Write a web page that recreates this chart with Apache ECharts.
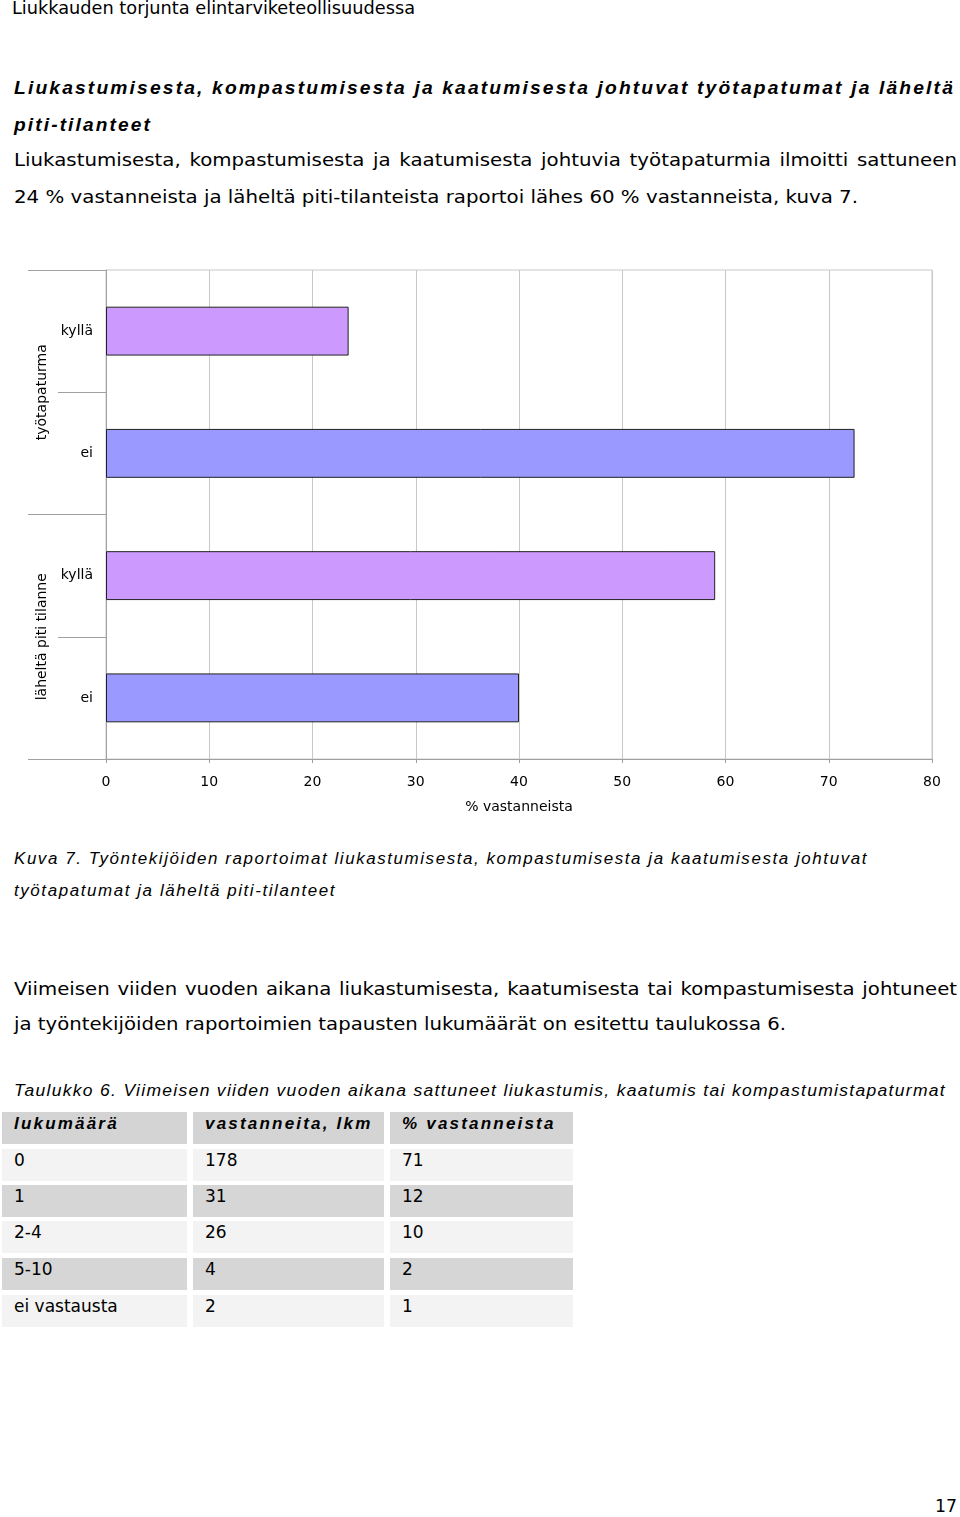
<!DOCTYPE html>
<html>
<head>
<meta charset="utf-8">
<script src="https://cdn.jsdelivr.net/npm/echarts@6/dist/echarts.min.js"></script>
<style>
  html, body { margin: 0; padding: 0; background: #fff; }
  body { width: 960px; height: 1517px; position: relative; overflow: hidden; color: #000; }
  .ln { position: absolute; white-space: pre; line-height: 24px; height: 24px; transform-origin: 0 50%; display: inline-block; }
  .cell { position: absolute; box-sizing: border-box; white-space: nowrap; font-family: "DejaVu Sans", Verdana, sans-serif; font-size: 17px; line-height: 23px; padding-left: 12px; }
  #chart { position: absolute; left: 0; top: 250px; width: 960px; height: 580px; }
</style>
</head>
<body>
<div id="chart"></div>
<script>
// ---------- data ----------
var groups = ['työtapaturma', 'läheltä piti tilanne'];
var answers = ['kyllä', 'ei'];
var percentValues = [23.5, 72.5, 59, 40]; // työtapaturma kyllä/ei, läheltä piti kyllä/ei
var xTicks = [0, 10, 20, 30, 40, 50, 60, 70, 80];
var xAxisName = '% vastanneista';

var tableHeader = ['lukumäärä', 'vastanneita, lkm', '% vastanneista'];
var tableCounts = ['0', '1', '2-4', '5-10', 'ei vastausta'];
var tableRespondents = [178, 31, 26, 4, 2];
var tablePercents = [71, 12, 10, 2, 1];

// ---------- text lines ----------
var arial = '"Liberation Sans", Arial, sans-serif';
var verdana = '"DejaVu Sans", Verdana, sans-serif';
var lines = [
  {t: 'Liukkauden torjunta elintarviketeollisuudessa', x: 12, y: 8, w: 403, f: '"Liberation Sans Narrow", "DejaVu Sans Condensed", sans-serif', s: 17, st: ''},
  {t: 'Liukastumisesta, kompastumisesta ja kaatumisesta johtuvat työtapatumat ja läheltä', x: 14, y: 88, w: 941, f: arial, s: 18, st: 'bold italic', ls: 2},
  {t: 'piti-tilanteet', x: 14, y: 125, w: 138, f: arial, s: 18, st: 'bold italic', ls: 2},
  {t: 'Liukastumisesta, kompastumisesta ja kaatumisesta johtuvia työtapaturmia ilmoitti sattuneen', x: 14, y: 160, w: 943, f: verdana, s: 18, st: '', just: 'body'},
  {t: '24 % vastanneista ja läheltä piti-tilanteista raportoi lähes 60 % vastanneista, kuva 7.', x: 14, y: 197, w: 844, f: verdana, s: 18, st: '', grp: 'body'},
  {t: 'Kuva 7. Työntekijöiden raportoimat liukastumisesta, kompastumisesta ja kaatumisesta johtuvat', x: 14, y: 859, w: 854, f: arial, s: 16, st: 'italic', ls: 1.5},
  {t: 'työtapatumat ja läheltä piti-tilanteet', x: 14, y: 891, w: 322, f: arial, s: 16, st: 'italic', ls: 1.5},
  {t: 'Viimeisen viiden vuoden aikana liukastumisesta, kaatumisesta tai kompastumisesta johtuneet', x: 14, y: 989, w: 943, f: verdana, s: 18, st: '', just: 'para'},
  {t: 'ja työntekijöiden raportoimien tapausten lukumäärät on esitettu taulukossa 6.', x: 14, y: 1024, w: 772, f: verdana, s: 18, st: '', grp: 'para'},
  {t: 'Taulukko 6. Viimeisen viiden vuoden aikana sattuneet liukastumis, kaatumis tai kompastumistapaturmat', x: 14, y: 1091, w: 932, f: arial, s: 16, st: 'italic', ls: 1.2},
  {t: '17', x: 935, y: 1506, w: 22, f: verdana, s: 18, st: ''}
];
var groupScale = {};
var pending = [];
lines.forEach(function (L) {
  var d = document.createElement('div');
  d.className = 'ln';
  d.textContent = L.t;
  d.style.left = L.x + 'px';
  d.style.top = (L.y - 12) + 'px';
  d.style.fontFamily = L.f;
  d.style.fontSize = L.s + 'px';
  if (L.st.indexOf('bold') >= 0) d.style.fontWeight = 'bold';
  if (L.st.indexOf('italic') >= 0) d.style.fontStyle = 'italic';
  if (L.ls) d.style.letterSpacing = L.ls + 'px';
  document.body.appendChild(d);
  var nat = d.getBoundingClientRect().width;
  if (L.just) { pending.push({d: d, L: L, nat: nat}); return; }
  var sc = nat > 0 ? L.w / nat : 1;
  if (L.grp) groupScale[L.grp] = sc;
  d.style.transform = 'scaleX(' + sc + ')';
});
pending.forEach(function (p) {
  var sc = groupScale[p.L.just] || 1;
  var spaces = (p.L.t.match(/ /g) || []).length;
  var extra = (p.L.w / sc - p.nat) / spaces;
  p.d.style.wordSpacing = extra + 'px';
  p.d.style.transform = 'scaleX(' + sc + ')';
});

// ---------- table ----------
var colX = [2, 193, 390];
var colW = [185, 191, 183];
var rowTop = [1112, 1149, 1185, 1221, 1258, 1295];
var rowColors = ['#d4d4d4', '#f3f3f3', '#d6d6d6', '#f3f3f3', '#d6d6d6', '#f3f3f3'];
function addCell(r, c, text, header) {
  var d = document.createElement('div');
  d.className = 'cell';
  d.style.left = colX[c] + 'px';
  d.style.top = rowTop[r] + 'px';
  d.style.width = colW[c] + 'px';
  d.style.height = '32px';
  d.style.background = rowColors[r];
  if (header) {
    d.style.fontFamily = arial;
    d.style.fontWeight = 'bold';
    d.style.fontStyle = 'italic';
    d.style.letterSpacing = '2.2px';
    d.style.fontSize = '17px';
  }
  d.textContent = text;
  document.body.appendChild(d);
}
tableHeader.forEach(function (h, c) { addCell(0, c, h, true); });
tableCounts.forEach(function (v, i) {
  addCell(i + 1, 0, v, false);
  addCell(i + 1, 1, String(tableRespondents[i]), false);
  addCell(i + 1, 2, String(tablePercents[i]), false);
});

// ---------- chart ----------
var catKeys = [];
groups.forEach(function (g) { answers.forEach(function (a) { catKeys.push(g + '|' + a); }); });
var answerColor = {'kyllä': '#cc99ff', 'ei': '#9999ff'};
var barData = percentValues.map(function (v, i) {
  var a = catKeys[i].split('|')[1];
  return {value: v, itemStyle: {color: answerColor[a]}};
});

var chart = echarts.init(document.getElementById('chart'), null, {renderer: 'canvas'});
chart.setOption({
  animation: false,
  grid: {left: 106, right: 28, top: 20, bottom: 71, show: true, borderColor: '#c8c8c8', borderWidth: 1, backgroundColor: 'transparent'},
  xAxis: {
    type: 'value', min: xTicks[0], max: xTicks[xTicks.length - 1], interval: xTicks[1] - xTicks[0],
    name: xAxisName, nameLocation: 'middle', nameGap: 41,
    nameTextStyle: {color: '#000', fontFamily: verdana, fontSize: 14},
    axisLine: {show: true, lineStyle: {color: '#a0a0a0', width: 1}},
    axisTick: {show: true, length: 4, lineStyle: {color: '#a0a0a0'}},
    axisLabel: {color: '#000', fontFamily: verdana, fontSize: 14, margin: 16},
    splitLine: {show: true, lineStyle: {color: '#c8c8c8', width: 1}}
  },
  yAxis: [
    {
      type: 'category', data: catKeys, inverse: true, position: 'left',
      axisLine: {show: true, lineStyle: {color: '#a0a0a0'}},
      axisTick: {show: true, length: 48, alignWithLabel: false, lineStyle: {color: '#a0a0a0'}},
      axisLabel: {color: '#000', fontFamily: verdana, fontSize: 14, margin: 13,
        formatter: function (v) { return v.split('|')[1]; }},
      splitLine: {show: false}
    },
    {
      type: 'category', data: groups, inverse: true, position: 'left', offset: 0,
      axisLine: {show: false},
      axisTick: {show: true, length: 78, alignWithLabel: false, lineStyle: {color: '#a0a0a0'}},
      axisLabel: {color: '#000', fontFamily: verdana, fontSize: 14, rotate: 90, margin: 57},
      splitLine: {show: false}
    }
  ],
  series: [{
    type: 'bar', yAxisIndex: 0, barWidth: '40%', data: barData,
    itemStyle: {borderColor: '#222', borderWidth: 1}
  }]
});
</script>
</body>
</html>
